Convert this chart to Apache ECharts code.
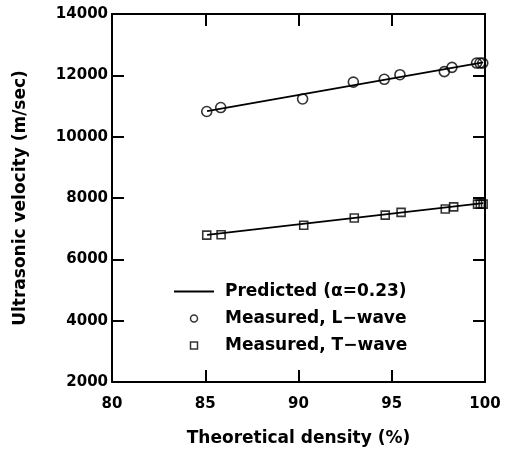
<!DOCTYPE html>
<html>
<head>
<meta charset="utf-8">
<script src="https://cdn.jsdelivr.net/npm/echarts@6/dist/echarts.min.js"></script>
<style>html,body{margin:0;padding:0;background:#fff;}#c{width:506px;height:452px;}</style>
</head>
<body>
<div id="c"></div>
<script>
// Data
const densityL = [85.08, 85.83, 90.22, 92.94, 94.60, 95.44, 97.82, 98.23, 99.55, 99.73, 99.88];
const velocityL = [10820, 10950, 11230, 11780, 11870, 12020, 12120, 12260, 12400, 12400, 12400];
const densityT = [85.08, 85.85, 90.28, 92.99, 94.65, 95.50, 97.87, 98.32, 99.60, 99.75, 99.90];
const velocityT = [6790, 6800, 7110, 7350, 7440, 7530, 7640, 7710, 7800, 7800, 7800];
const predDensity = [85.1, 99.9];
const predL = [10830, 12420];
const predT = [6800, 7830];
const xTicks = [80, 85, 90, 95, 100];
const yTicks = [2000, 4000, 6000, 8000, 10000, 12000, 14000];

const predName = 'Predicted (\u03b1=0.23)';
const lName = 'Measured, L\u2212wave';
const tName = 'Measured, T\u2212wave';
const zip = (xs, ys) => xs.map((x, i) => [x, ys[i]]);

const font = 'DejaVu Sans';
const axisCommon = {
  type: 'value',
  axisLine: { show: true, lineStyle: { color: '#000', width: 2 } },
  axisTick: { show: true, inside: true, length: 12, lineStyle: { color: '#000', width: 2 } },
  splitLine: { show: false }
};

const chart = echarts.init(document.getElementById('c'), null, { renderer: 'canvas' });
chart.setOption({
  backgroundColor: '#fff',
  animation: false,
  grid: { left: 112, right: 21, top: 14, bottom: 63, containLabel: false },
  xAxis: [
    Object.assign({}, axisCommon, {
      min: xTicks[0], max: xTicks[xTicks.length - 1], interval: 5, position: 'bottom',
      name: 'Theoretical density (%)', nameLocation: 'middle', nameGap: 48,
      nameTextStyle: { fontFamily: font, fontSize: 17, fontWeight: 'bold', color: '#000' },
      axisLabel: { margin: 15, fontFamily: font, fontSize: 15, fontWeight: 'bold', color: '#000',
        formatter: v => String(v) }
    }),
    Object.assign({}, axisCommon, {
      min: xTicks[0], max: xTicks[xTicks.length - 1], interval: 5, position: 'top',
      axisLabel: { show: false }
    })
  ],
  yAxis: [
    Object.assign({}, axisCommon, {
      min: yTicks[0], max: yTicks[yTicks.length - 1], interval: 2000, position: 'left',
      name: 'Ultrasonic velocity (m/sec)', nameLocation: 'middle', nameGap: 83,
      nameTextStyle: { fontFamily: font, fontSize: 17, fontWeight: 'bold', color: '#000' },
      axisLabel: { margin: 4, fontFamily: font, fontSize: 15, fontWeight: 'bold', color: '#000',
        formatter: v => String(v) }
    }),
    Object.assign({}, axisCommon, {
      min: yTicks[0], max: yTicks[yTicks.length - 1], interval: 2000, position: 'right',
      axisLabel: { show: false }
    })
  ],
  legend: {
    orient: 'vertical', left: 169, top: 278,
    itemWidth: 40, itemHeight: 7, itemGap: 10, symbolKeepAspect: true,
    textStyle: { fontFamily: font, fontSize: 17, fontWeight: 'bold', color: '#000', lineHeight: 17, padding: [0, 0, 0, 6] },
    data: [
      { name: predName, icon: 'path://M0,0H40V2H0Z', itemStyle: { color: '#000', borderWidth: 0 } },
      { name: lName, icon: 'path://M5,0A5,5,0,1,1,5,10A5,5,0,1,1,5,0Z',
        itemStyle: { color: '#fff', borderColor: '#000', borderWidth: 1.5 } },
      { name: tName, icon: 'path://M0,0H10V10H0Z',
        itemStyle: { color: '#fff', borderColor: '#000', borderWidth: 1.5 } }
    ]
  },
  series: [
    { name: predName, type: 'line', symbol: 'none', data: zip(predDensity, predL),
      lineStyle: { color: '#000', width: 1.8 }, itemStyle: { color: '#000' } },
    { name: predName, type: 'line', symbol: 'none', data: zip(predDensity, predT),
      lineStyle: { color: '#000', width: 1.8 }, itemStyle: { color: '#000' } },
    { name: lName, type: 'scatter', symbol: 'circle', symbolSize: 10, data: zip(densityL, velocityL),
      itemStyle: { color: 'rgba(255,255,255,0)', borderColor: '#000', borderWidth: 1.6 } },
    { name: tName, type: 'scatter', symbol: 'rect', symbolSize: 8, data: zip(densityT, velocityT),
      itemStyle: { color: 'rgba(255,255,255,0)', borderColor: '#000', borderWidth: 1.6 } }
  ]
});
</script>
</body>
</html>
